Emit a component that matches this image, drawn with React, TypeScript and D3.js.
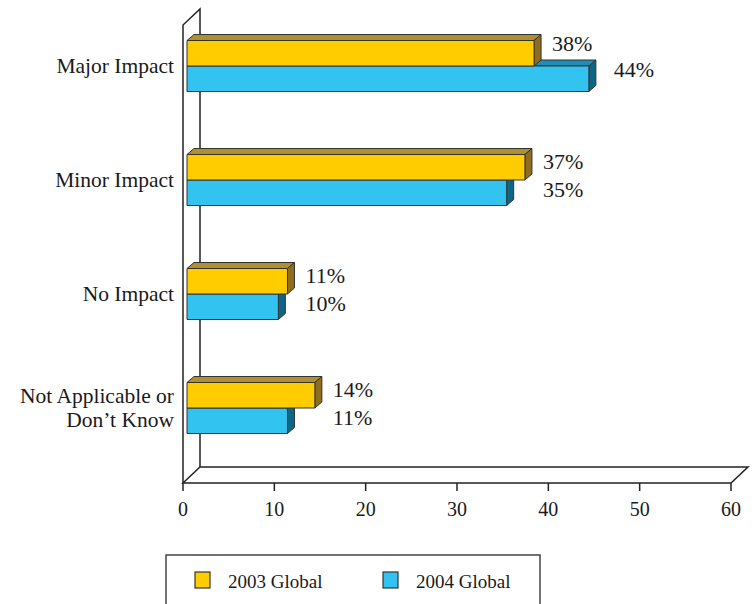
import React from "react";
import * as d3 from "d3";

// Survey responses by impact category
const categories = ["Major Impact", "Minor Impact", "No Impact", "Not Applicable or\nDon’t Know"];
const values2003 = [38, 37, 11, 14];
const values2004 = [44, 35, 10, 11];
const seriesNames = ["2003 Global", "2004 Global"];
const tickValues = [0, 10, 20, 30, 40, 50, 60];

const W = 752;
const H = 604;
const FONT = "'Liberation Serif', 'Times New Roman', serif";

// 3D box geometry: depth of the wall/floor and of each bar
const WALL_DX = 17;
const WALL_DY = -16;
const BAR_DX = 7;
const BAR_DY = -6;
const BAR_SHIFT = 4;

const palette = [
  { front: "#FFCC00", top: "#B0902E", side: "#8E6D1E" },
  { front: "#33C3F0", top: "#1D8EB8", side: "#0E6686" },
];
const stroke = "#333";
const ink = "#1a1a1a";

function Bar3D({ x0, x1, y0, y1, c }: { x0: number; x1: number; y0: number; y1: number; c: typeof palette[0] }) {
  const top = `M${x0},${y0} L${x0 + BAR_DX},${y0 + BAR_DY} L${x1 + BAR_DX},${y0 + BAR_DY} L${x1},${y0} Z`;
  const side = `M${x1},${y0} L${x1 + BAR_DX},${y0 + BAR_DY} L${x1 + BAR_DX},${y1 + BAR_DY} L${x1},${y1} Z`;
  return (
    <g stroke={stroke} strokeWidth={1} strokeLinejoin="round">
      <path d={top} fill={c.top} />
      <path d={side} fill={c.side} />
      <rect x={x0} y={y0} width={x1 - x0} height={y1 - y0} fill={c.front} />
    </g>
  );
}

export default function App() {
  const x = d3.scaleLinear().domain([0, 60]).range([183, 731]);
  const y = d3.scaleBand<string>().domain(categories).range([9, 465]).padding(0);
  const floorY = 483;
  const wallTop = 25;
  const x0 = x(0);
  const xEnd = x(60);
  const barH = 25.5;

  return (
    <svg
      width={W}
      height={H}
      viewBox={`0 0 ${W} ${H}`}
      style={{ position: "absolute", left: 0, top: 0, background: "#fff" }}
      fontFamily={FONT}
    >
      {/* left wall */}
      <g fill="none" stroke="#222" strokeWidth={1.5}>
        <path d={`M${x0},${floorY} L${x0},${wallTop} L${x0 + WALL_DX},${wallTop + WALL_DY} L${x0 + WALL_DX},${floorY + WALL_DY}`} />
        {/* floor */}
        <path d={`M${x0},${floorY} L${x0 + WALL_DX},${floorY + WALL_DY} L${xEnd + WALL_DX},${floorY + WALL_DY} L${xEnd},${floorY} Z`} />
      </g>
      {/* ticks and labels */}
      {tickValues.map((t) => (
        <g key={t}>
          <line x1={x(t)} x2={x(t)} y1={floorY} y2={floorY + 8} stroke="#222" strokeWidth={1.5} />
          <text x={x(t)} y={516} textAnchor="middle" fontSize={20} fill={ink}>
            {t}
          </text>
        </g>
      ))}
      {/* bars */}
      {categories.map((cat, i) => {
        const c = (y(cat) ?? 0) + y.bandwidth() / 2;
        const a = values2003[i];
        const b = values2004[i];
        const bx0 = x0 + BAR_SHIFT;
        const xa = x(a) + BAR_SHIFT;
        const xb = x(b) + BAR_SHIFT;
        const labelA = xa + 18;
        const labelB = x(Math.max(a, b)) + BAR_SHIFT + 18 + (b > a ? BAR_DX : 0);
        const lines = cat.split("\n");
        const lift = b > a ? 4 : 0;
        return (
          <g key={cat}>
            <Bar3D x0={bx0} x1={xb} y0={c} y1={c + barH} c={palette[1]} />
            <Bar3D x0={bx0} x1={xa} y0={c - barH} y1={c} c={palette[0]} />
            <text x={labelA} y={c - 11 - lift} fontSize={22} fill={ink}>
              {a}%
            </text>
            <text x={labelB} y={c + 17 - lift * 1.5} fontSize={22} fill={ink}>
              {b}%
            </text>
            <text textAnchor="end" fontSize={21.5} fill={ink}>
              {lines.map((ln, k) => (
                <tspan key={k} x={174} y={c + 7 + (k - (lines.length - 1) / 2) * 24}>
                  {ln}
                </tspan>
              ))}
            </text>
          </g>
        );
      })}
      {/* legend */}
      <g>
        <rect x={166} y={555} width={374} height={60} fill="#fff" stroke="#444" strokeWidth={1.5} />
        {seriesNames.map((s, i) => {
          const lx = 195 + i * 188;
          return (
            <g key={s}>
              <rect x={lx} y={572} width={15} height={16} fill={palette[i].front} stroke="#333" strokeWidth={1.2} />
              <text x={lx + 33} y={588} fontSize={19} fill={ink}>
                {s}
              </text>
            </g>
          );
        })}
      </g>
    </svg>
  );
}
